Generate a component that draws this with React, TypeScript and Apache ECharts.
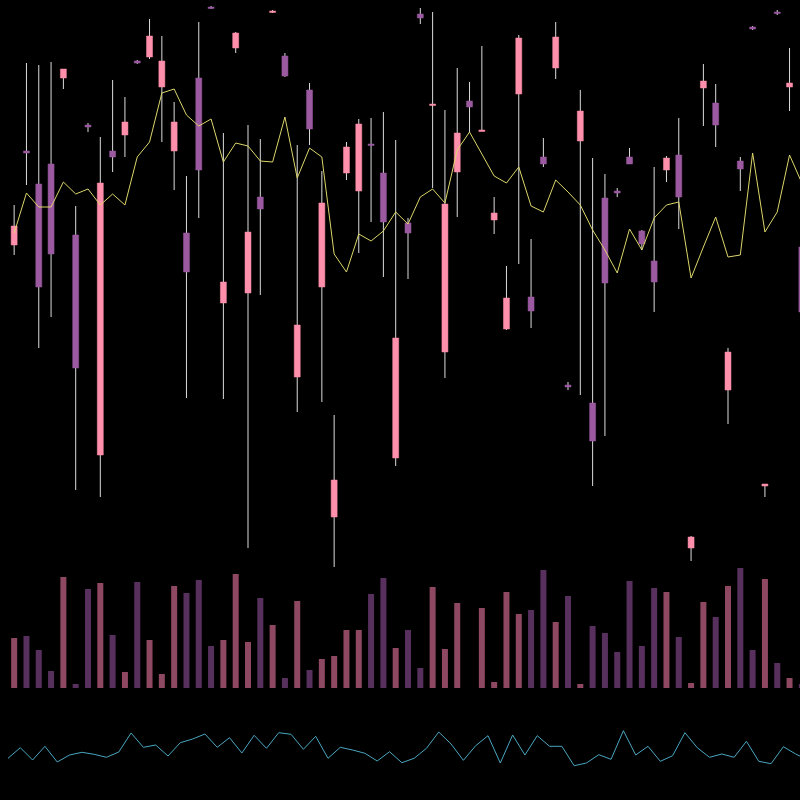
import React, { useEffect, useRef } from "react";
import * as echarts from "echarts";

// ---- data (arbitrary price units) ----
const CATEGORIES = Array.from({ length: 65 }, (_, i) => `D${i + 1}`);
const LINE_POINTS = Array.from({ length: 66 }, (_, i) => `P${i + 1}`);

const OPEN = [355, 449, 416, 436, 522, 365, 475, 145, 449, 465, 539, 543, 513, 449, 367, 522, 593, 297, 552, 307, 403, 588, 544, 223, 510, 313, 83, 427, 409, 456, 427, 142, 377, 586, 495, 248, 428, 499, 469, 380, 271, 506, 303, 443, 532, 215, 459, 197, 402, 409, 443, 369, 339, 430, 445, 52, 512, 497, 210, 439, 573, 114, 588, 513, 353];
const CLOSE = [374, 447, 313, 346, 531, 232, 473, 417, 443, 478, 537, 564, 539, 478, 328, 430, 592, 318, 567, 368, 391, 589, 524, 275, 471, 397, 120, 453, 476, 455, 378, 262, 367, 582, 496, 396, 467, 493, 470, 387, 302, 562, 289, 436, 563, 213, 489, 159, 317, 407, 436, 356, 318, 442, 403, 63, 519, 475, 248, 431, 571, 116, 587, 517, 288];
const LOW = [345, 415, 252, 283, 511, 110, 468, 103, 428, 443, 536, 541, 458, 410, 202, 382, 591, 201, 547, 52, 305, 587, 523, 188, 455, 198, 33, 420, 347, 378, 323, 134, 321, 576, 412, 222, 383, 468, 469, 366, 270, 336, 272, 433, 521, 210, 205, 114, 164, 403, 436, 350, 288, 418, 371, 39, 474, 453, 176, 409, 570, 103, 585, 489, 285];
const HIGH = [395, 537, 535, 538, 531, 394, 477, 463, 520, 503, 540, 581, 564, 498, 424, 578, 594, 467, 568, 475, 461, 590, 547, 455, 517, 429, 185, 458, 481, 482, 488, 460, 382, 592, 588, 490, 532, 518, 554, 403, 334, 565, 361, 462, 578, 218, 510, 442, 426, 412, 452, 370, 433, 444, 482, 64, 536, 516, 252, 443, 574, 116, 590, 552, 355];
const AVERAGE = [367, 407, 393, 393, 418, 406, 411, 395, 406, 395, 443, 458, 507, 511, 485, 474, 481, 438, 457, 454, 439, 438, 483, 422, 452, 443, 346, 328, 366, 359, 369, 388, 376, 403, 411, 397, 450, 468, 446, 424, 417, 433, 394, 388, 420, 408, 395, 370, 350, 327, 371, 350, 382, 395, 398, 322, 353, 383, 343, 345, 447, 368, 388, 445, 417];
const VOLUME = [50, 52, 38, 17, 111, 4, 99, 105, 53, 16, 106, 48, 14, 102, 95, 108, 42, 48, 114, 46, 90, 63, 10, 87, 18, 29, 32, 58, 58, 94, 110, 40, 58, 20, 101, 39, 85, 0, 80, 6, 96, 74, 78, 118, 66, 92, 4, 62, 55, 36, 107, 42, 100, 96, 51, 5, 86, 71, 102, 120, 38, 109, 25, 10, 4];
const OSCILLATOR = [41.7, 52.3, 40, 53.7, 38, 45, 47.7, 45.7, 42.7, 48, 67, 52.7, 55, 44, 57.3, 61, 66, 52.7, 62.3, 47, 64.7, 51.7, 67.3, 65.7, 50.7, 63.7, 41.7, 52.7, 50, 46.7, 39, 48.3, 37.3, 41.7, 51.7, 68, 56, 39.7, 54.3, 64.3, 37, 65, 45, 64.3, 53.7, 53.7, 34.3, 37, 45.3, 40.7, 69.3, 45, 53.7, 38.7, 44.3, 67.3, 52.3, 42.7, 46, 42.7, 58.7, 38.7, 36.3, 53.3, 46, 40];

const PINK = "#ff8fab";
const PURPLE = "#9b59a0";
const VOL_PINK = "#8e4862";
const VOL_PURPLE = "#58305e";

export default function App() {
  const ref = useRef<HTMLDivElement>(null);

  useEffect(() => {
    if (!ref.current) return;
    const chart = echarts.init(ref.current, null, { renderer: "svg" });

    const candleData = OPEN.map((o, i) => [i, o, CLOSE[i], LOW[i], HIGH[i]]);
    const volumeData = VOLUME.map((v, i) => ({
      value: v,
      itemStyle: { color: CLOSE[i] >= OPEN[i] ? VOL_PINK : VOL_PURPLE },
    }));

    const hiddenAxis = {
      show: false,
      axisLine: { show: false },
      axisTick: { show: false },
      axisLabel: { show: false },
      splitLine: { show: false },
    };

    chart.setOption({
      animation: false,
      backgroundColor: "#000000",
      grid: [
        { left: 8, right: 8, top: 0, height: 600 },
        { left: 8, right: 8, top: 560, height: 128 },
        { left: 8, right: 8, top: 700, height: 100 },
      ],
      xAxis: [
        { type: "category", data: CATEGORIES, gridIndex: 0, boundaryGap: true, ...hiddenAxis },
        { type: "category", data: CATEGORIES, gridIndex: 1, boundaryGap: true, ...hiddenAxis },
        { type: "category", data: LINE_POINTS, gridIndex: 2, boundaryGap: false, ...hiddenAxis },
      ],
      yAxis: [
        { type: "value", gridIndex: 0, min: 0, max: 600, ...hiddenAxis },
        { type: "value", gridIndex: 1, min: 0, max: 128, ...hiddenAxis },
        { type: "value", gridIndex: 2, min: 0, max: 100, ...hiddenAxis },
      ],
      series: [
        {
          type: "bar",
          xAxisIndex: 1,
          yAxisIndex: 1,
          data: volumeData,
          barWidth: 6,
        },
        {
          type: "custom",
          xAxisIndex: 0,
          yAxisIndex: 0,
          data: candleData,
          encode: { x: 0, y: [1, 2, 3, 4] },
          clip: false,
          renderItem: (params: any, api: any) => {
            const i = api.value(0);
            const o = api.value(1);
            const c = api.value(2);
            const l = api.value(3);
            const h = api.value(4);
            const pO = api.coord([i, o]);
            const pC = api.coord([i, c]);
            const pL = api.coord([i, l]);
            const pH = api.coord([i, h]);
            const x = pO[0];
            const w = 6;
            const color = c >= o ? PINK : PURPLE;
            const top = Math.min(pO[1], pC[1]);
            const hgt = Math.max(Math.abs(pO[1] - pC[1]), 1.5);
            return {
              type: "group",
              children: [
                {
                  type: "line",
                  shape: { x1: x, y1: pH[1], x2: x, y2: pL[1] },
                  style: { stroke: "#dcdcdc", lineWidth: 1 },
                },
                {
                  type: "rect",
                  shape: { x: x - w / 2, y: top, width: w, height: hgt },
                  style: { fill: color, stroke: color, lineWidth: 0.5 },
                },
              ],
            };
          },
        },
        {
          type: "line",
          xAxisIndex: 0,
          yAxisIndex: 0,
          data: AVERAGE,
          showSymbol: false,
          symbol: "none",
          lineStyle: { color: "#dcd66a", width: 1 },
        },
        {
          type: "line",
          xAxisIndex: 2,
          yAxisIndex: 2,
          data: OSCILLATOR,
          showSymbol: false,
          symbol: "none",
          lineStyle: { color: "#4aa6c0", width: 1 },
        },
      ],
    });

    return () => chart.dispose();
  }, []);

  return (
    <div
      style={{ position: "fixed", left: 0, top: 0, width: 800, height: 800, overflow: "hidden", background: "#000" }}
    >
      <div ref={ref} style={{ width: 816, height: 800 }} />
    </div>
  );
}
